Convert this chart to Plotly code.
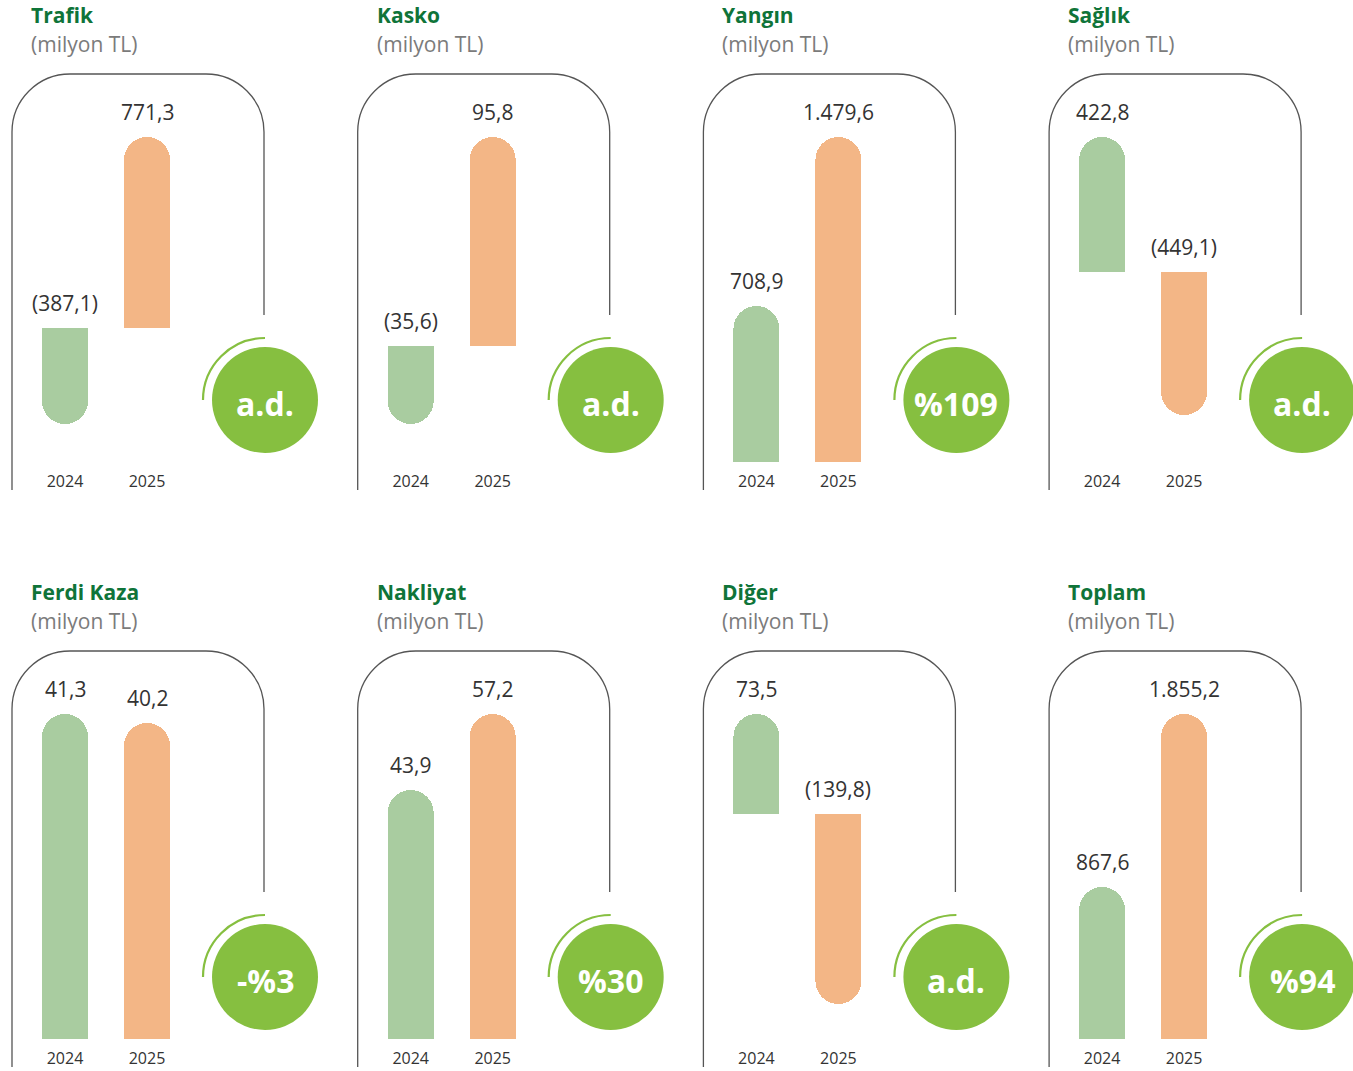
import plotly.graph_objects as go

# ---------------- data ----------------
categories = ["Trafik", "Kasko", "Yangın", "Sağlık", "Ferdi Kaza", "Nakliyat", "Diğer", "Toplam"]
years = ["2024", "2025"]
values_2024 = [-387.1, -35.6, 708.9, 422.8, 41.3, 43.9, 73.5, 867.6]
values_2025 = [771.3, 95.8, 1479.6, -449.1, 40.2, 57.2, -139.8, 1855.2]
change_labels = ["a.d.", "a.d.", "%109", "a.d.", "-%3", "%30", "a.d.", "%94"]
unit_label = "(milyon TL)"
# per-panel lower end of the value axis (each panel has its own scale)
axis_low = [-540.2, -53.0, 0.0, -596.6, 0.0, 0.0, -165.5, 0.0]

# ---------------- style ----------------
W, H = 1353, 1071
FONT = "Open Sans"
GREEN_BAR = "#a9cca0"
ORANGE_BAR = "#f3b686"
CIRCLE = "#86bf40"
TITLE_C = "#0f7439"
SUB_C = "#7b7b7b"
TEXT_C = "#333333"
FRAME_C = "#555555"
COL_STEP = 345.7
ROW_STEP = 577


def px(x):
    return x / W


def py(y):
    return 1 - y / H


def fmt(v):
    s = f"{abs(v):,.1f}".replace(",", "X").replace(".", ",").replace("X", ".")
    return f"({s})" if v < 0 else s


fig = go.Figure()
shapes = []
annotations = []
K = 0.5523

for i, cat in enumerate(categories):
    r, c = divmod(i, 4)
    ox, oy = c * COL_STEP, r * ROW_STEP
    n = "" if i == 0 else str(i + 1)
    xa, ya = "x" + n, "y" + n

    # bar axes geometry (pixels)
    cx0, step = 65 + ox, 82.0
    dx0, dx1 = 12 + ox, 212 + ox
    dy_top, dy_bot = 137 + oy, 462 + oy
    xr = [-(cx0 - dx0) / step, (dx1 - cx0) / step]
    hi = max(values_2024[i], values_2025[i], 0)

    fig.add_trace(go.Bar(
        x=[0, 1], y=[values_2024[i], values_2025[i]],
        marker=dict(color=[GREEN_BAR, ORANGE_BAR], cornerradius=23, line=dict(width=0)),
        width=46 / step, xaxis=xa, yaxis=ya, hoverinfo="skip", showlegend=False,
    ))
    fig.layout["xaxis" + n] = dict(
        domain=[px(dx0), px(dx1)], range=xr, anchor=ya,
        tickvals=[0, 1], ticktext=years, ticks="", ticklabelstandoff=8,
        tickfont=dict(family=FONT, size=16, color=TEXT_C),
        showgrid=False, zeroline=False, showline=False, fixedrange=True,
    )
    fig.layout["yaxis" + n] = dict(
        domain=[py(dy_bot), py(dy_top)], range=[axis_low[i], hi], anchor=xa,
        showgrid=False, zeroline=False, showline=False, showticklabels=False, fixedrange=True,
    )

    # value labels
    for j, v in enumerate([values_2024[i], values_2025[i]]):
        annotations.append(dict(
            x=j, y=max(v, 0), xref=xa, yref=ya, text=fmt(v), showarrow=False,
            yanchor="middle", yshift=25,
            font=dict(family=FONT, size=21, color=TEXT_C),
        ))

    # titles
    annotations.append(dict(
        x=px(29 + ox), y=py(15 + oy), xref="paper", yref="paper", text=f"<b>{cat}</b>",
        showarrow=False, xanchor="left", yanchor="middle",
        font=dict(family=FONT, size=21, color=TITLE_C),
    ))
    annotations.append(dict(
        x=px(29 + ox), y=py(44 + oy), xref="paper", yref="paper", text=unit_label,
        showarrow=False, xanchor="left", yanchor="middle",
        font=dict(family=FONT, size=21, color=SUB_C),
    ))

    # frame
    L, R, T, Rad = 12 + ox, 264 + ox, 74 + oy, 58
    path = (
        f"M {px(L)},{py(490 + oy)} L {px(L)},{py(T + Rad)} "
        f"C {px(L)},{py(T + Rad * (1 - K))} {px(L + Rad * (1 - K))},{py(T)} {px(L + Rad)},{py(T)} "
        f"L {px(R - Rad)},{py(T)} "
        f"C {px(R - Rad * (1 - K))},{py(T)} {px(R)},{py(T + Rad * (1 - K))} {px(R)},{py(T + Rad)} "
        f"L {px(R)},{py(315 + oy)}"
    )
    shapes.append(dict(type="path", path=path, xref="paper", yref="paper",
                       line=dict(color=FRAME_C, width=1.3)))

    # circle + arc
    ccx, ccy, cr, ar = 265 + ox, 400 + oy, 53, 62
    shapes.append(dict(type="circle", xref="paper", yref="paper",
                       x0=px(ccx - cr), x1=px(ccx + cr), y0=py(ccy + cr), y1=py(ccy - cr),
                       fillcolor=CIRCLE, line=dict(width=0)))
    arc = (
        f"M {px(ccx - ar)},{py(ccy)} "
        f"C {px(ccx - ar)},{py(ccy - ar * K)} {px(ccx - ar * K)},{py(ccy - ar)} {px(ccx)},{py(ccy - ar)}"
    )
    shapes.append(dict(type="path", path=arc, xref="paper", yref="paper",
                       line=dict(color=CIRCLE, width=2.2)))
    annotations.append(dict(
        x=px(ccx), y=py(ccy + 3), xref="paper", yref="paper", text=f"<b>{change_labels[i]}</b>",
        showarrow=False, xanchor="center", yanchor="middle",
        font=dict(family=FONT, size=32, color="white"),
    ))

fig.update_layout(
    width=W, height=H, margin=dict(l=0, r=0, t=0, b=0),
    paper_bgcolor="white", plot_bgcolor="rgba(0,0,0,0)",
    shapes=shapes, annotations=annotations, showlegend=False,
    bargap=0,
)

fig.write_html("out.html", config={"displayModeBar": False},
               post_script="document.body.style.margin='0';document.body.style.overflow='hidden';")
